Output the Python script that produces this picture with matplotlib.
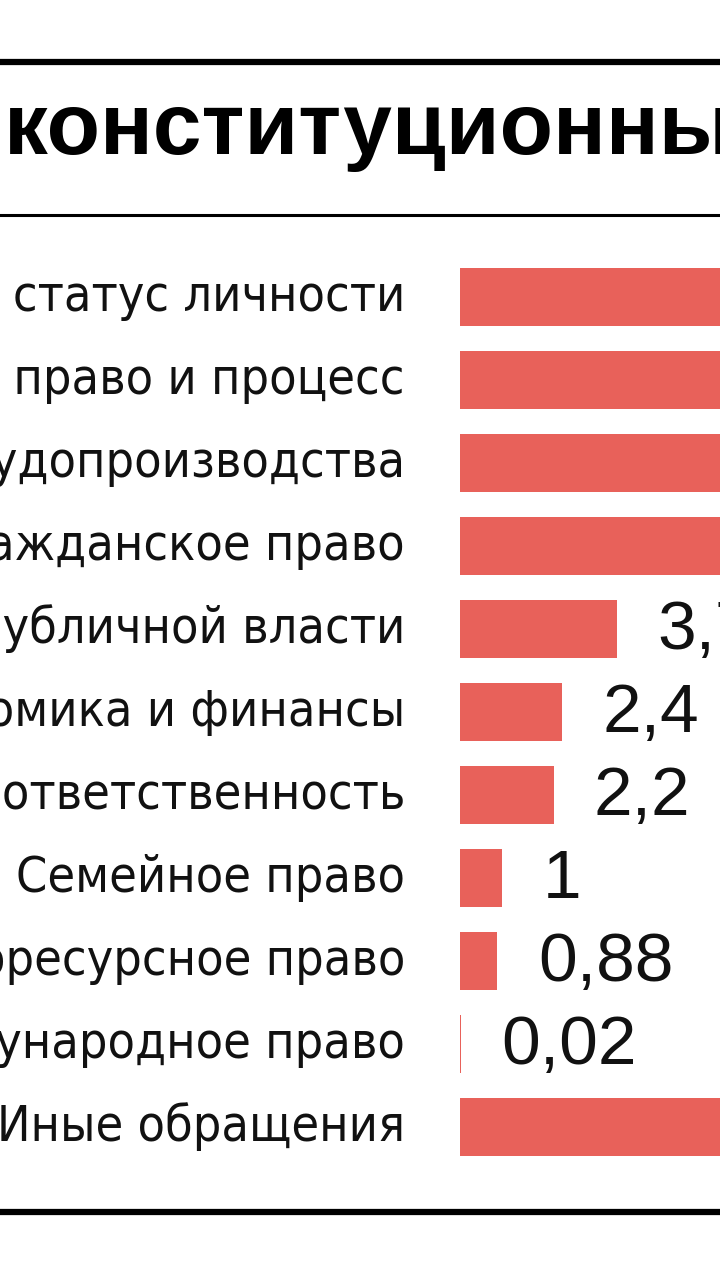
import matplotlib.pyplot as plt
from matplotlib.lines import Line2D

# ----------------- dados -----------------
CATEGORIAS = [
    "Конституционный статус личности",
    "Уголовное право и процесс",
    "Организация судопроизводства",
    "Гражданское право",
    "Организация публичной власти",
    "Экономика и финансы",
    "Административная ответственность",
    "Семейное право",
    "Природоресурсное право",
    "Международное право",
    "Иные обращения",
]
VALORES = [28.1, 17.7, 14.0, 7.9, 3.7, 2.4, 2.2, 1.0, 0.88, 0.02, 11.5]
ROTULOS = ["28,1", "17,7", "14", "7,9", "3,7", "2,4", "2,2", "1", "0,88", "0,02", "11,5"]
TITULO = "конституционный суд"

COR_BARRA = "#e8615a"
W, H = 720, 1280

fig = plt.figure(figsize=(W / 100, H / 100), dpi=100)
fig.patch.set_facecolor("white")

# eixo: começa em x=460 px, 42.5 px por unidade, linhas de 83 px
px_unit = 42.5
row = 83
top_px = 297 - row / 2
n = len(CATEGORIAS)
ax_w = (W - 460) / W
ax_h = n * row / H
ax_b = 1 - (top_px + n * row) / H
ax = fig.add_axes([460 / W, ax_b, ax_w, ax_h])
ax.set_xlim(0, (W - 460) / px_unit)
ax.set_ylim(n - 0.5, -0.5)
ax.axis("off")

ys = list(range(n))
ax.barh(ys, VALORES, height=0.7, color=COR_BARRA, clip_on=False)

for y, cat, v, lab in zip(ys, CATEGORIAS, VALORES, ROTULOS):
    ax.text(-55 / px_unit, y, cat, ha="right", va="center",
            fontsize=36, family="DejaVu Sans", fontstretch="condensed",
            color="#111111", clip_on=False)
    ax.text(v + 0.95, y + 0.03, lab, ha="left", va="center",
            fontsize=50, family="Liberation Sans", color="#111111", clip_on=False)

# título e linhas
fig.text(4 / W, 1 - 130 / H, TITULO, ha="left", va="center",
         fontsize=63, fontweight="bold", family="Liberation Sans", color="black")
fig.add_artist(Line2D([0, 1], [1 - 62 / H] * 2, color="black", lw=4.5))
fig.add_artist(Line2D([0, 1], [1 - 215 / H] * 2, color="black", lw=2.2))
fig.add_artist(Line2D([0, 1], [1 - 1212 / H] * 2, color="black", lw=4.5))

fig.savefig("out.png", dpi=100)
